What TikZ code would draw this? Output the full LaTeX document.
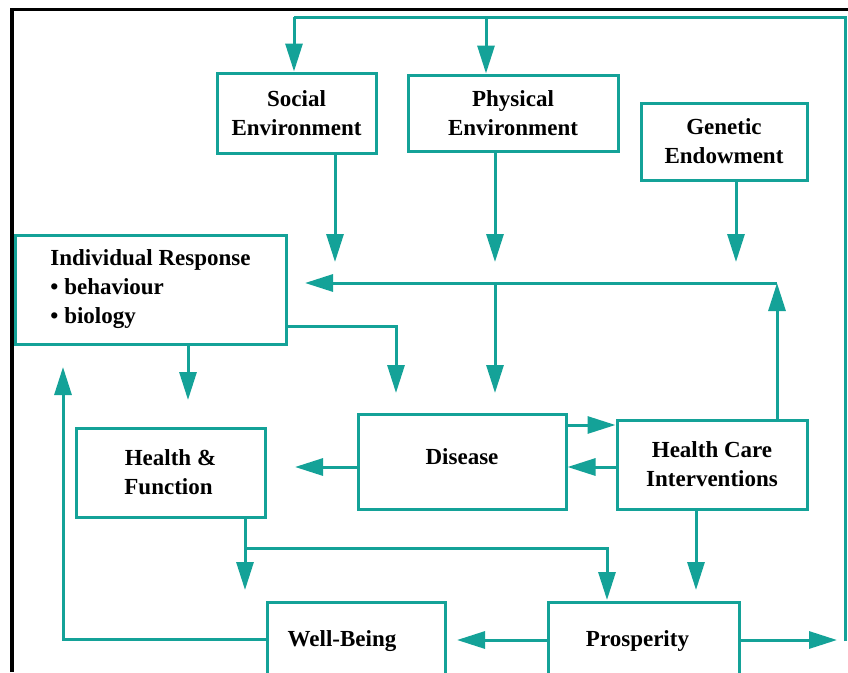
\documentclass[tikz,border=0pt]{standalone}
\usepackage{fontspec}
\setmainfont{Liberation Serif}
\usetikzlibrary{arrows.meta}
\definecolor{tealc}{RGB}{20,162,152}
\begin{document}
\begin{tikzpicture}[x=1pt,y=-1pt,
  box/.style={draw=tealc, line width=3pt, fill=white, align=center, inner sep=0pt,
    font=\bfseries\fontsize{23}{29}\selectfont},
  conn/.style={draw=tealc, line width=3pt},
  arr/.style={conn, -{Triangle[length=28pt,width=17pt]}}]
\useasboundingbox (0,0) rectangle (848,672);
\fill[white] (0,0) rectangle (848,672);
% frame
\draw[line width=3.5pt, black] (12,672) -- (12,9.5) -- (848,9.5);
% boxes
\node[box, minimum width=159pt, minimum height=80pt] (soc) at (296.5,113) {Social\\Environment};
\node[box, minimum width=210pt, minimum height=76pt] (phy) at (513,113) {Physical\\Environment};
\node[box, minimum width=166pt, minimum height=77pt] (gen) at (724,141.5) {Genetic\\Endowment};
\node[box, minimum width=271pt, minimum height=109pt, align=left] (ind) at (150.5,289.5) {Individual Response\\\textbullet\ behaviour\\\textbullet\ biology\hspace*{8pt}};
\node[box, minimum width=189pt, minimum height=89pt] (hf) at (170.5,472.5) {Health \&\\Function\hspace*{4pt}};
\node[box, minimum width=208pt, minimum height=95pt] (dis) at (462,461.5) {\raisebox{0pt}[\height][\dimexpr\depth+10pt\relax]{Disease}};
\node[box, minimum width=190pt, minimum height=89pt] (hci) at (712,464.5) {Health Care\\Interventions};
\node[box, minimum width=178pt, minimum height=78pt] (wb) at (356,641) {Well-Being\hspace*{28pt}};
\node[box, minimum width=191pt, minimum height=78pt] (pro) at (643.5,641) {Prosperity\hspace*{12pt}};
% coordinates
\coordinate (rb) at (845,641);
\coordinate (rt) at (845,17);
\coordinate (tl) at (294,17);
\coordinate (tm) at (486,17);
\coordinate (socT) at (335,262);
\coordinate (phyT) at (495,262);
\coordinate (genT) at (736,262);
\coordinate (hr) at (777,283);
\coordinate (hl) at (305,283);
\coordinate (hd) at (495,283);
\coordinate (disT) at (495,393);
\coordinate (ic) at (396,326);
\coordinate (icT) at (396,393);
\coordinate (hfT) at (188,400);
\coordinate (wl) at (63,639);
\coordinate (wlT) at (63,367);
\coordinate (dhT) at (295,467);
\coordinate (hfx) at (245,548);
\coordinate (hfD) at (245,590);
\coordinate (prc) at (607,548);
\coordinate (prT) at (607,600);
\coordinate (hciD) at (696,590);
\coordinate (pwT) at (457,640);
\coordinate (prR) at (837,640);
% connectors
\draw[conn] (rb) -- (rt) -- (tl);
\draw[arr] (tl) -- (tl |- soc.north);
\draw[arr] (tm) -- (tm |- phy.north);
\draw[arr] (soc.south -| socT) -- (socT);
\draw[arr] (phy.south -| phyT) -- (phyT);
\draw[arr] (gen.south -| genT) -- (genT);
\draw[arr] (hci.north -| hr) -- (hr);
\draw[arr] (hr) -- (hl);
\draw[arr] (hd) -- (disT);
\draw[arr] (ind.east |- ic) -- (ic) -- (icT);
\draw[arr] (ind.south -| hfT) -- (hfT);
\draw[arr] (wb.west |- wl) -- (wl) -- (wlT);
\draw[arr] (dis.east |- 0,425) -- (hci.west |- 0,425);
\draw[arr] (hci.west |- 0,467) -- (dis.east |- 0,467);
\draw[arr] (dis.west |- dhT) -- (dhT);
\draw[arr] (hf.south -| hfD) -- (hfD);
\draw[arr] (hfx) -- (prc) -- (prT);
\draw[arr] (hci.south -| hciD) -- (hciD);
\draw[arr] (pro.west |- pwT) -- (pwT);
\draw[arr] (pro.east |- prR) -- (prR);
\end{tikzpicture}
\end{document}
